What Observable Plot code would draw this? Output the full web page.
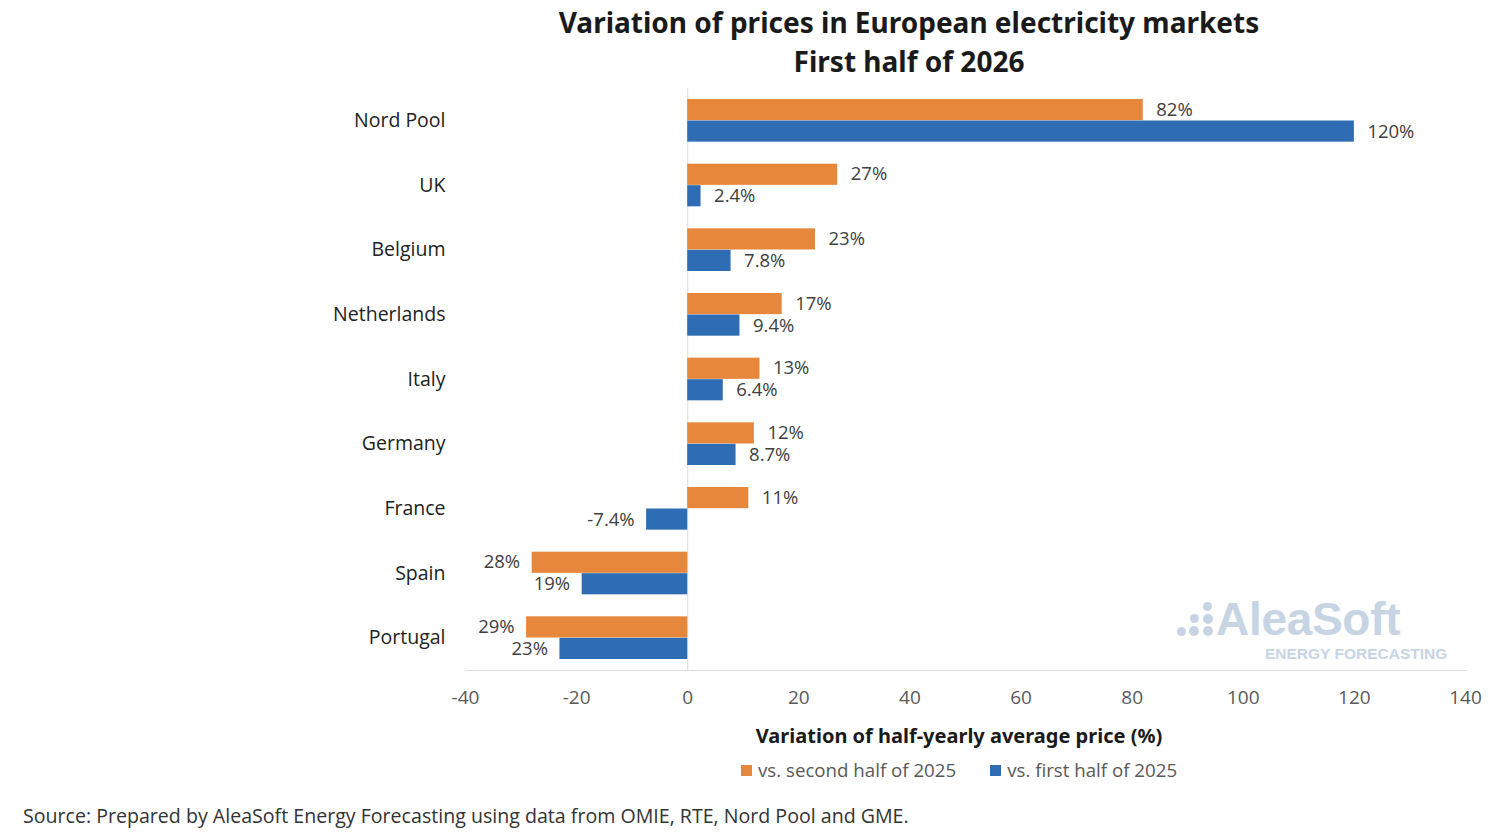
<!DOCTYPE html>
<html>
<head>
<meta charset="utf-8">
<script src="https://cdn.jsdelivr.net/npm/d3@7"></script>
<script src="https://cdn.jsdelivr.net/npm/@observablehq/plot@0.6"></script>
<style>
  html, body { margin: 0; padding: 0; background: #fff; }
  body { width: 1500px; height: 834px; position: relative; overflow: hidden; font-family: "Open Sans", sans-serif; }
  #title { position: absolute; left: 0; top: 3px; width: 1818px; text-align: center; font-family: "Noto Sans", sans-serif; font-weight: 700; font-size: 28px; line-height: 39px; color: #1a1a1a; }
  #chart { position: absolute; left: 0; top: 80px; }
  #xtitle { position: absolute; left: 0; top: 722px; width: 1918px; text-align: center; font-family: "Noto Sans", sans-serif; font-weight: 700; font-size: 20px; color: #1a1a1a; }
  #legend { position: absolute; top: 757px; left: 741px; font-size: 18.7px; color: #595959; display: flex; gap: 34px; }
  #legend span.sw { display: inline-block; width: 11px; height: 11px; margin-right: 6px; vertical-align: 1px; }
  #source { position: absolute; left: 23px; top: 802px; font-size: 19.6px; color: #333; }
  #wm { position: absolute; left: 1174px; top: 598px; color: #c6d4e4; }
  #wm .big { position: absolute; left: 42px; top: -6px; font-family: "Liberation Sans", Arial, sans-serif; font-weight: 700; font-size: 46px; letter-spacing: -0.3px; white-space: nowrap; }
  #wm .small { position: absolute; left: 91px; top: 47px; font-family: "Liberation Sans", Arial, sans-serif; font-weight: 700; font-size: 15.5px; white-space: nowrap; }
  #wm .dot { position: absolute; border-radius: 50%; background: #c6d4e4; }
</style>
</head>
<body>
<div id="title">Variation of prices in European electricity markets<br>First half of 2026</div>
<div id="chart"></div>
<div id="xtitle">Variation of half-yearly average price (%)</div>
<div id="legend"></div>
<div id="source">Source: Prepared by AleaSoft Energy Forecasting using data from OMIE, RTE, Nord Pool and GME.</div>
<div id="wm">
  <span class="dot" style="left:29px;top:4px;width:9px;height:9px"></span>
  <span class="dot" style="left:16px;top:16px;width:9px;height:9px"></span>
  <span class="dot" style="left:29px;top:16px;width:10px;height:10px"></span>
  <span class="dot" style="left:3px;top:29px;width:9px;height:9px"></span>
  <span class="dot" style="left:15px;top:28px;width:10px;height:10px"></span>
  <span class="dot" style="left:29px;top:28px;width:10px;height:10px"></span>
  <span class="big">AleaSoft</span>
  <span class="small">ENERGY FORECASTING</span>
</div>
<script>
const markets = ["Nord Pool", "UK", "Belgium", "Netherlands", "Italy", "Germany", "France", "Spain", "Portugal"];
const vsSecondHalf2025 = [82, 27, 23, 17, 13, 12, 11, -28, -29];
const vsFirstHalf2025 = [120, 2.4, 7.8, 9.4, 6.4, 8.7, -7.4, -19, -23];
const labelsSecondHalf = ["82%", "27%", "23%", "17%", "13%", "12%", "11%", "28%", "29%"];
const labelsFirstHalf = ["120%", "2.4%", "7.8%", "9.4%", "6.4%", "8.7%", "-7.4%", "19%", "23%"];
const xTicks = [-40, -20, 0, 20, 40, 60, 80, 100, 120, 140];
const seriesNames = ["vs. second half of 2025", "vs. first half of 2025"];
const seriesColors = ["#E6873C", "#2E6DB3"];

const orange = markets.map((m, i) => ({market: m, value: vsSecondHalf2025[i], label: labelsSecondHalf[i]}));
const blue = markets.map((m, i) => ({market: m, value: vsFirstHalf2025[i], label: labelsFirstHalf[i]}));

const labelStyle = {fontSize: 18.5, fill: "#404040", fontFamily: "Open Sans, sans-serif"};

const chart = Plot.plot({
  width: 1500,
  height: 635,
  marginLeft: 465,
  marginRight: 35,
  marginTop: 8,
  marginBottom: 45,
  style: {fontFamily: "Open Sans, sans-serif", background: "transparent"},
  x: {domain: [-40, 140], ticks: xTicks, label: null},
  y: {domain: markets, padding: 0, round: false, label: null},
  marks: [
    Plot.ruleX([0], {stroke: "#e0e0e0", strokeWidth: 1.2}),
    Plot.frame({anchor: "bottom", stroke: "#dcdcdc", strokeWidth: 1.2}),
    Plot.barX(orange, {x: "value", y: "market", fill: seriesColors[0], insetTop: 11, insetBottom: 32.5}),
    Plot.barX(blue, {x: "value", y: "market", fill: seriesColors[1], insetTop: 32.5, insetBottom: 11}),
    Plot.text(orange.filter(d => d.value >= 0), {x: "value", y: "market", text: "label", dy: -11, dx: 13, textAnchor: "start", ...labelStyle}),
    Plot.text(orange.filter(d => d.value < 0), {x: "value", y: "market", text: "label", dy: -11, dx: -12, textAnchor: "end", ...labelStyle}),
    Plot.text(blue.filter(d => d.value >= 0), {x: "value", y: "market", text: "label", dy: 11, dx: 13, textAnchor: "start", ...labelStyle}),
    Plot.text(blue.filter(d => d.value < 0), {x: "value", y: "market", text: "label", dy: 11, dx: -12, textAnchor: "end", ...labelStyle}),
    Plot.axisY({tickSize: 0, tickPadding: 20, fontSize: 19.5, color: "#222", label: null}),
    Plot.axisX({ticks: xTicks, tickFormat: d => String(d), tickSize: 0, tickPadding: 20, fontSize: 19, color: "#595959", label: null})
  ]
});
document.getElementById("chart").appendChild(chart);

const legend = document.getElementById("legend");
seriesNames.forEach((name, i) => {
  const item = document.createElement("div");
  const sw = document.createElement("span");
  sw.className = "sw";
  sw.style.background = seriesColors[i];
  item.appendChild(sw);
  item.appendChild(document.createTextNode(name));
  legend.appendChild(item);
});
</script>
</body>
</html>
